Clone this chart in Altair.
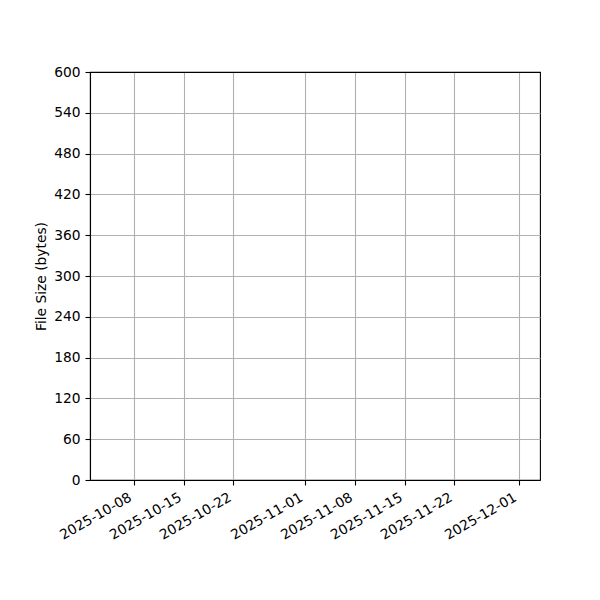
import altair as alt
import pandas as pd

# Data (the reference chart is empty: no file-size records)
dates = []
sizes = []

x_tick_dates = [(2025, 10, 8), (2025, 10, 15), (2025, 10, 22), (2025, 11, 1),
                (2025, 11, 8), (2025, 11, 15), (2025, 11, 22), (2025, 12, 1)]
y_ticks = [0, 60, 120, 180, 240, 300, 360, 420, 480, 540, 600]

df = pd.DataFrame({"date": pd.to_datetime(pd.Series(dates, dtype="object")),
                   "size": pd.Series(sizes, dtype="float")})

x_vals = [alt.DateTime(year=y, month=m, date=d, utc=True) for (y, m, d) in x_tick_dates]
x_domain = [alt.DateTime(year=2025, month=10, date=1, hours=21, utc=True),
            alt.DateTime(year=2025, month=12, date=4, utc=True)]

FONT = "DejaVu Sans"

chart = alt.Chart(df).mark_line(color="#1f77b4").encode(
    x=alt.X("date:T",
            scale=alt.Scale(type="utc", domain=x_domain, nice=False),
            axis=alt.Axis(values=x_vals, format="%Y-%m-%d", title=None,
                          labelAngle=330, labelAlign="right", labelBaseline="top",
                          labelOffset=-7, labelPadding=5, tickSize=5,
                          labelFlush=False, labelOverlap=False)),
    y=alt.Y("size:Q",
            scale=alt.Scale(domain=[0, 600], nice=False, zero=True),
            axis=alt.Axis(values=y_ticks, title="File Size (bytes)",
                          tickSize=5, labelPadding=5,
                          titleX=-42, titleY=204, titleAngle=270,
                          titleAlign="center", titleBaseline="bottom",
                          gridColor={"condition": {"test": "datum.value === 600", "value": "black"},
                                     "value": "#b0b0b0"})),
).properties(
    width=450, height=408,
    background="white",
    autosize=alt.AutoSizeParams(type="none"),
    padding={"left": 82, "top": 64, "right": 40, "bottom": 100},
).configure_view(
    stroke="black", strokeWidth=1.1
).configure_axis(
    grid=True, gridWidth=1.1, gridColor="#b0b0b0", gridOpacity=1,
    domainColor="black", domainWidth=1.1,
    tickColor="black", tickWidth=1.1,
    labelColor="black", titleColor="black",
    labelFont=FONT, titleFont=FONT,
    labelFontSize=13.8, titleFontSize=13.8, titleFontWeight="normal",
)

chart.save("out.html", embed_options={"renderer": "svg", "actions": False})
